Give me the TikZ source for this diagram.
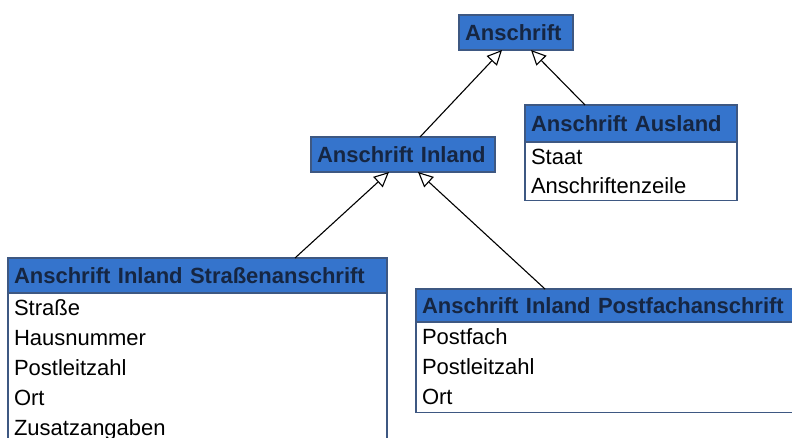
\documentclass[tikz,border=0pt]{standalone}
\usepackage{fontspec}
\setmainfont{Liberation Sans}
\usetikzlibrary{arrows.meta,calc}
\definecolor{classblue}{RGB}{53,116,204}
\definecolor{classedge}{RGB}{62,88,130}
\definecolor{classtext}{RGB}{22,38,66}
\begin{document}
\begin{tikzpicture}[x=1pt,y=-1pt]
\tikzstyle{every node}+=[inner sep=0pt,outer sep=0pt]
\tikzstyle{head}=[draw=classedge,line width=1.3pt,fill=classblue,text=classtext,font=\fontsize{22}{26}\selectfont\bfseries,minimum height=35pt,align=left,inner xsep=6pt,anchor=north west]
\tikzstyle{attrs}=[draw=classedge,line width=1.3pt,fill=white,font=\fontsize{22}{30}\selectfont,align=left,inner xsep=6pt,inner ysep=7pt,anchor=north west]
\tikzstyle{inherit}=[-{Triangle[open,length=15pt,width=14pt]},line width=1.1pt,black]
\clip (0,0) rectangle (792,438);
% classes
\node [head,text width=102pt] (anschrift) at (459,15) {Anschrift};
\node [head,text width=172pt] (inland) at (311,137) {Anschrift Inland};
\node [head,text width=200pt,minimum height=37pt] (ausland) at (525,105) {Anschrift Ausland};
\node [attrs,text width=200pt,font=\fontsize{22}{29}\selectfont] (ausland attrs) at (ausland.south west) {Staat\\Anschriftenzeile};
\node [head,text width=367pt] (strasse) at (8,258) {Anschrift Inland Straßenanschrift};
\node [attrs,text width=367pt] (strasse attrs) at (strasse.south west) {Straße\\Hausnummer\\Postleitzahl\\Ort\\Zusatzangaben};
\node [head,text width=366pt,minimum height=33pt] (postfach) at (416,289) {Anschrift Inland Postfachanschrift};
\node [attrs,text width=366pt] (postfach attrs) at (postfach.south west) {Postfach\\Postleitzahl\\Ort};
% generalisations
\draw [inherit] ($(inland.north west)+(109,0)$) -- ($(anschrift.south west)+(43,0)$);
\draw [inherit] ($(ausland.north west)+(60,0)$) -- ($(anschrift.south west)+(72,0)$);
\draw [inherit] ($(strasse.north west)+(287,0)$) -- ($(inland.south west)+(78,0)$);
\draw [inherit] ($(postfach.north west)+(129,0)$) -- ($(inland.south west)+(107,0)$);
\end{tikzpicture}
\end{document}
